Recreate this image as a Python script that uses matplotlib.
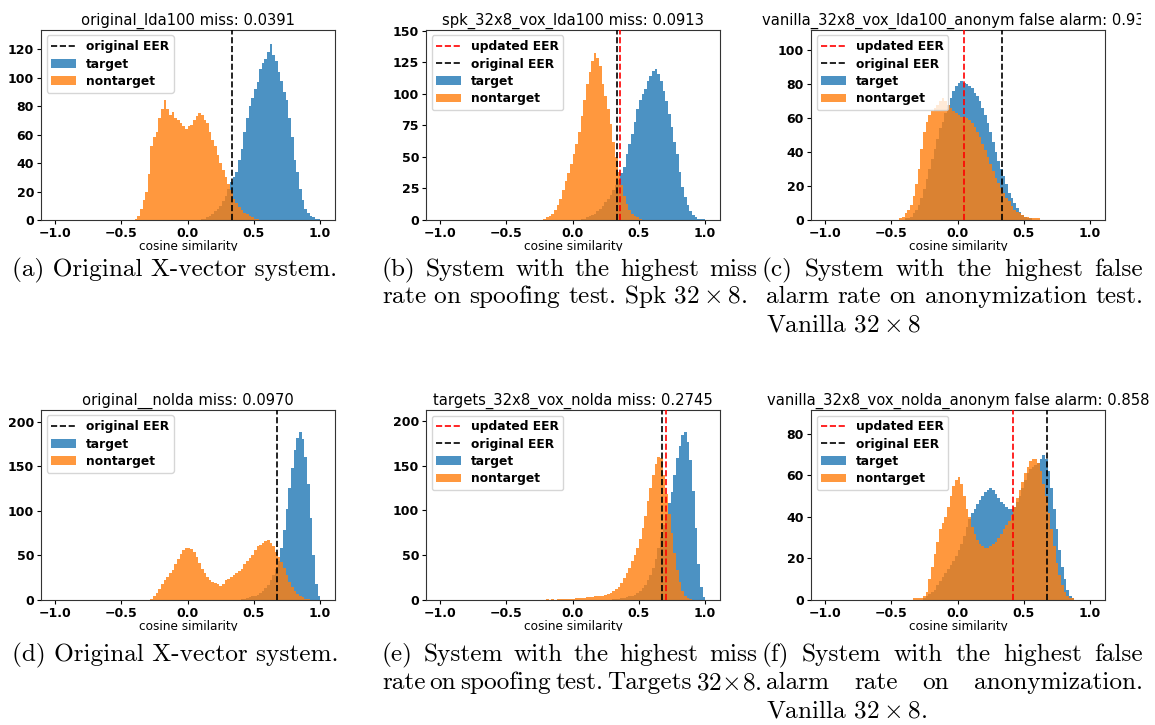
import numpy as np
import matplotlib
matplotlib.use("Agg")
import matplotlib.pyplot as plt
from matplotlib.transforms import Bbox, TransformedBbox

plt.rcParams['mathtext.fontset'] = 'cm'

W, H = 1155, 725
BW = 0.02  # bin width

# ---------------- data (bin heights, bins of width 0.02 starting at *_start) -------------
a_title = "original_lda100 miss: 0.0391"
a_target_start = 0.10
a_target = [1, 1, 2, 3, 4, 6, 8, 10, 13, 17, 22, 27, 30, 34, 42, 50, 62, 72, 80, 86, 92, 97,
            106, 110, 113, 118, 124, 116, 112, 104, 98, 90, 84, 72, 58, 42, 34, 22, 14, 8, 5, 3, 2, 1, 1]
a_nontarget_start = -0.40
a_nontarget = [1, 3, 8, 14, 20, 32, 52, 58, 62, 72, 78, 84, 78, 74, 76, 72, 70, 68, 66, 64, 66, 67,
               70, 73, 75, 74, 70, 68, 62, 56, 52, 46, 40, 35, 30, 25, 21, 15, 12, 9, 7, 5, 4, 3, 2, 1, 1]
a_updated = None
a_original = 0.338

b_title = "spk_32x8_vox_lda100 miss: 0.0913"
b_target_start = 0.06
b_target = [1, 1, 2, 3, 4, 5, 7, 9, 11, 14, 17, 20, 24, 28, 32, 37, 42, 52, 60, 68, 78, 88, 95, 100,
            104, 110, 114, 118, 120, 116, 110, 102, 94, 84, 74, 62, 52, 38, 26, 18, 12, 7, 4, 2, 1, 1, 1]
b_nontarget_start = -0.22
b_nontarget = [1, 2, 3, 5, 8, 12, 17, 24, 31, 37, 44, 52, 60, 70, 82, 95, 108, 117, 126, 132, 128,
               122, 108, 98, 88, 76, 62, 50, 38, 28, 19, 13, 8, 5, 3, 2, 1]
b_updated = 0.36
b_original = 0.333

c_title = "vanilla_32x8_vox_lda100_anonym false alarm: 0.938"
c_target_start = -0.40
c_target = [1, 1, 2, 4, 6, 9, 13, 18, 24, 30, 36, 42, 48, 54, 58, 63, 68, 72, 76, 79, 81, 82, 81, 80,
            79, 78, 75, 73, 70, 66, 62, 57, 52, 46, 40, 35, 30, 26, 21, 16, 13, 10, 7, 5, 3, 2, 1, 1]
c_nontarget_start = -0.44
c_nontarget = [1, 2, 4, 6, 9, 14, 21, 30, 42, 52, 58, 62, 64, 66, 68, 70, 72, 70, 68, 66, 64, 63, 62,
               61, 61, 60, 59, 57, 55, 52, 49, 45, 41, 37, 33, 29, 25, 22, 19, 16, 13, 11, 8, 6, 5, 4,
               3, 2, 2, 1, 1, 1, 1]
c_updated = 0.045
c_original = 0.333

d_title = "original__nolda miss: 0.0970"
d_target_start = 0.40
d_target = [1, 1, 2, 3, 4, 5, 6, 8, 10, 13, 17, 22, 28, 35, 44, 58, 78, 102, 125, 148, 168, 182,
            188, 180, 160, 130, 92, 50, 18, 4]
d_nontarget_start = -0.28
d_nontarget = [1, 4, 8, 12, 18, 22, 26, 30, 34, 40, 46, 52, 56, 58, 58, 57, 54, 48, 42, 35, 30, 26,
               22, 20, 19, 18, 16, 18, 22, 24, 26, 28, 30, 32, 35, 40, 44, 47, 50, 56, 60, 62, 64, 66,
               67, 64, 60, 54, 48, 43, 36, 28, 20, 15, 10, 7, 4, 3, 1, 1]
d_updated = None
d_original = 0.678

e_title = "targets_32x8_vox_nolda miss: 0.2745"
e_target_start = 0.30
e_target = [1, 1, 1, 2, 2, 3, 4, 5, 6, 8, 10, 13, 17, 22, 28, 36, 46, 58, 70, 84, 96, 108, 120, 140,
            158, 172, 184, 188, 176, 156, 122, 80, 40, 14, 3]
e_nontarget_start = -0.20
e_nontarget = [1, 0, 1, 0, 1, 1, 1, 1, 1, 1, 1, 2, 2, 2, 2, 3, 3, 3, 4, 4, 5, 5, 6, 7, 8, 10, 12, 15,
               19, 24, 30, 36, 43, 50, 58, 68, 80, 94, 110, 125, 140, 152, 160, 158, 140, 118, 96, 75,
               52, 34, 20, 10, 5, 2, 1]
e_updated = 0.705
e_original = 0.672

f_title = "vanilla_32x8_vox_nolda_anonym false alarm: 0.858"
f_target_start = -0.26
f_target = [1, 2, 3, 4, 5, 7, 9, 11, 13, 15, 17, 19, 21, 24, 27, 31, 35, 39, 42, 44, 46, 48, 50, 52,
            53, 54, 53, 51, 49, 47, 46, 45, 44, 44, 45, 47, 50, 54, 58, 61, 63, 64, 65, 66, 68, 70,
            68, 62, 54, 44, 34, 24, 16, 10, 5, 2, 1]
f_nontarget_start = -0.34
f_nontarget = [1, 1, 1, 1, 2, 4, 10, 16, 22, 28, 34, 37, 40, 45, 50, 55, 58, 59, 56, 50, 44, 40, 35,
               32, 29, 27, 26, 25, 25, 26, 27, 28, 30, 32, 34, 36, 38, 41, 45, 49, 53, 57, 61, 64, 67,
               68, 68, 66, 62, 56, 50, 42, 34, 26, 18, 12, 7, 4, 2, 1, 1]
f_updated = 0.418
f_original = 0.672

ylims = [133.5, 150.5, 112, 213, 212, 91.5]
yticks = [np.arange(0, 121, 20), np.arange(0, 151, 25), np.arange(0, 101, 20),
          np.arange(0, 201, 50), np.arange(0, 201, 50), np.arange(0, 81, 20)]
xticks = [-1.0, -0.5, 0.0, 0.5, 1.0]

panels = [
    (a_title, a_target_start, a_target, a_nontarget_start, a_nontarget, a_updated, a_original),
    (b_title, b_target_start, b_target, b_nontarget_start, b_nontarget, b_updated, b_original),
    (c_title, c_target_start, c_target, c_nontarget_start, c_nontarget, c_updated, c_original),
    (d_title, d_target_start, d_target, d_nontarget_start, d_nontarget, d_updated, d_original),
    (e_title, e_target_start, e_target, e_nontarget_start, e_nontarget, e_updated, e_original),
    (f_title, f_target_start, f_target, f_nontarget_start, f_nontarget, f_updated, f_original),
]

# axes pixel boxes (left, top, right, bottom)
boxes = [(41, 30, 335, 220), (426, 30, 720, 220), (811, 30, 1105, 220),
         (41, 410, 335, 600), (426, 410, 720, 600), (811, 410, 1105, 600)]
# clip regions for each sub-figure (left, top, right, bottom) in pixels
clips = [(0, 0, 380, 251), (380, 0, 760, 251), (762, 0, 1141, 251),
         (0, 380, 380, 631), (380, 380, 760, 631), (762, 380, 1155, 631)]

fig = plt.figure(figsize=(W / 100, H / 100), dpi=100)


def fig_bbox(px):
    l, t, r, b = px
    return TransformedBbox(Bbox([[l / W, 1 - b / H], [r / W, 1 - t / H]]), fig.transFigure)


for i, (title, ts, tv, ns, nv, upd, orig) in enumerate(panels):
    l, t, r, b = boxes[i]
    ax = fig.add_axes([l / W, 1 - b / H, (r - l) / W, (b - t) / H])
    t_edges = ts + BW * np.arange(len(tv) + 1)
    n_edges = ns + BW * np.arange(len(nv) + 1)
    if upd is not None:
        ax.axvline(upd, color='red', linestyle='--', lw=1.2, label='updated EER')
    ax.axvline(orig, color='black', linestyle='--', lw=1.2, label='original EER')
    ax.hist(t_edges[:-1], bins=t_edges, weights=tv, color='#1f77b4', alpha=0.8, label='target')
    ax.hist(n_edges[:-1], bins=n_edges, weights=nv, color='#ff7f0e', alpha=0.8, label='nontarget')
    for ln in ax.lines:
        ln.set_zorder(3)
    ax.set_xlim(-1.106, 1.112)
    ax.set_ylim(0, ylims[i])
    ax.set_xticks(xticks)
    ax.set_yticks(yticks[i])
    ax.tick_params(labelsize=9.0, length=3, width=0.8, pad=2)
    for lab in ax.get_xticklabels() + ax.get_yticklabels():
        lab.set_fontweight('bold')
    for s in ax.spines.values():
        s.set_linewidth(0.8)
        s.set_color('#333333')
    ttl = ax.set_title(title, fontsize=10.6, pad=4)
    xl = ax.set_xlabel('cosine similarity', fontsize=8.7)
    ax.xaxis.set_label_coords(0.5, -(240 - 220) / (b - t))
    cb = fig_bbox(clips[i])
    for txt in (ttl, xl):
        txt.set_clip_box(cb)
        txt.set_clip_on(True)
    ax.legend(loc='upper left', prop={'weight': 'bold', 'size': 8.8},
              borderaxespad=0.45, handlelength=2.0, labelspacing=0.35)

# ---------------- captions ----------------
CAP = dict(family='cmr10', fontsize=18.2, color='black', va='center', ha='left')
renderer = fig.canvas.get_renderer()


def caption_line(text, x0, y, x1=None):
    if x1 is None:
        fig.text(x0 / W, 1 - y / H, text, **CAP)
        return
    words = text.split('|')
    objs = [fig.text(0, 1 - y / H, w, **CAP) for w in words]
    widths = [o.get_window_extent(renderer).width for o in objs]
    gap = (x1 - x0 - sum(widths)) / (len(words) - 1)
    x = x0
    for o, w in zip(objs, widths):
        o.set_x(x / W)
        x += w + gap


caption_line("(a) Original X-vector system.", 12, 270)
caption_line("(b)|System|with|the|highest|miss", 382, 270, 757)
caption_line("rate on spoofing test. Spk $32\\times8$.", 382, 297)
caption_line("(c)|System|with|the|highest|false", 762, 270, 1143)
caption_line("alarm|rate|on|anonymization|test.", 766, 297, 1143)
caption_line("Vanilla $32\\times8$", 766, 325)

caption_line("(d) Original X-vector system.", 12, 655)
caption_line("(e)|System|with|the|highest|miss", 382, 655, 757)
caption_line("rate|on|spoofing|test.|Targets|$32\\!\\times\\!8$.", 382, 683, 762)
caption_line("(f)|System|with|the|highest|false", 762, 655, 1143)
caption_line("alarm|rate|on|anonymization.", 766, 683, 1143)
caption_line("Vanilla $32\\times8$.", 766, 711)

fig.savefig("out.png", dpi=100)
